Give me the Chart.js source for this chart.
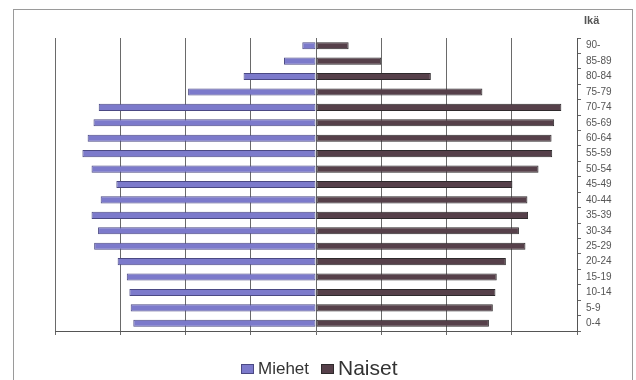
<!DOCTYPE html>
<html>
<head>
<meta charset="utf-8">
<script src="https://cdn.jsdelivr.net/npm/chart.js@4"></script>
<style>
  html, body { margin: 0; padding: 0; background: #fff; }
  #wrap { width: 636px; height: 380px; position: relative; }
</style>
</head>
<body>
<div id="wrap"><canvas id="c" width="636" height="380"></canvas></div>
<script>
// Age groups, oldest at the top
const ageGroups = ['90-', '85-89', '80-84', '75-79', '70-74', '65-69', '60-64', '55-59', '50-54',
                   '45-49', '40-44', '35-39', '30-34', '25-29', '20-24', '15-19', '10-14', '5-9', '0-4'];
// Population by age group
const miehet = [21, 49, 111, 196, 333, 341, 350, 358, 344, 306, 330, 344, 334, 340, 304, 290, 286, 284, 280];
const naiset = [50, 100, 176, 255, 376, 365, 361, 362, 341, 301, 324, 325, 311, 321, 291, 277, 275, 271, 265];
// Horizontal scale grid steps
const xTicks = [-400, -300, -200, -100, 0, 100, 200, 300, 400];
const axisTitle = 'Ikä';

// Frame around the whole chart, the axis title and the legend
const decorations = {
  id: 'decorations',
  beforeDraw(chart) {
    const ctx = chart.ctx;
    ctx.save();
    ctx.strokeStyle = '#9a9a9a';
    ctx.lineWidth = 1;
    ctx.strokeRect(13.5, 9.5, 619, 380);
    ctx.restore();
  },
  afterDraw(chart) {
    const ctx = chart.ctx;
    const yScale = chart.scales.y;
    ctx.save();
    ctx.fillStyle = '#555';
    ctx.font = 'bold 11px "Liberation Sans", Arial, sans-serif';
    ctx.textBaseline = 'middle';
    ctx.textAlign = 'left';
    ctx.fillText(axisTitle, yScale.left + 7, 21);

    // legend
    const items = [
      { ds: chart.data.datasets[0], size: 17, x: 241 },
      { ds: chart.data.datasets[1], size: 21, x: 321 }
    ];
    const baseY = 369;
    items.forEach(it => {
      ctx.fillStyle = it.ds.backgroundColor;
      ctx.fillRect(it.x, baseY - 5, 13, 10);
      ctx.strokeStyle = it.ds.borderColor;
      ctx.lineWidth = 1;
      ctx.strokeRect(it.x + 0.5, baseY - 4.5, 12, 9);
      ctx.fillStyle = '#333';
      ctx.font = it.size + 'px "Liberation Sans", Arial, sans-serif';
      ctx.textBaseline = 'middle';
      ctx.fillText(it.ds.label, it.x + 17, baseY);
    });
    ctx.restore();
  }
};

new Chart(document.getElementById('c'), {
  type: 'bar',
  data: {
    labels: ageGroups,
    datasets: [
      {
        label: 'Miehet',
        data: miehet.map(v => -v),
        backgroundColor: '#7c7acb',
        borderColor: '#4b4984',
        borderWidth: 1,
        borderSkipped: false
      },
      {
        label: 'Naiset',
        data: naiset,
        backgroundColor: '#56404a',
        borderColor: '#2e2a2c',
        borderWidth: 1,
        borderSkipped: false
      }
    ]
  },
  options: {
    indexAxis: 'y',
    responsive: false,
    animation: false,
    devicePixelRatio: 1,
    categoryPercentage: 1,
    barPercentage: 0.46,
    layout: { padding: { left: 55, top: 38, right: 0, bottom: 0 } },
    plugins: {
      legend: { display: false },
      title: { display: false },
      tooltip: { enabled: false }
    },
    scales: {
      x: {
        stacked: true,
        min: xTicks[0],
        max: xTicks[xTicks.length - 1],
        afterBuildTicks(scale) { scale.ticks = xTicks.map(v => ({ value: v })); },
        afterFit(scale) { scale.height = 49; },
        ticks: { display: false },
        grid: { color: '#6a6a6a', lineWidth: 1, tickLength: 4, tickColor: '#6a6a6a' },
        border: { display: true, color: '#555' }
      },
      y: {
        position: 'right',
        stacked: true,
        afterFit(scale) { scale.width = 59; },
        grid: { drawOnChartArea: false, offset: true, tickLength: 4, color: '#666' },
        border: { display: true, color: '#555' },
        ticks: {
          color: '#555',
          padding: 5,
          autoSkip: false,
          font: { family: '"Liberation Sans", Arial, sans-serif', size: 10 }
        }
      }
    }
  },
  plugins: [decorations]
});
</script>
</body>
</html>
